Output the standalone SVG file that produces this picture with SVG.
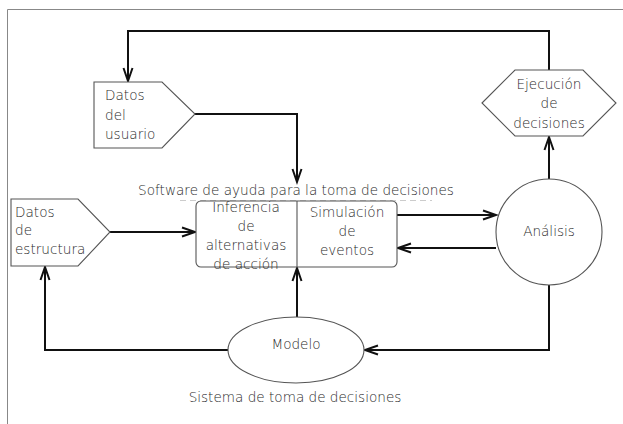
<svg xmlns="http://www.w3.org/2000/svg" width="623" height="424" viewBox="0 0 623 424">
<style>
text{font-family:"DejaVu Sans","Liberation Sans",sans-serif;font-size:13.6px;font-weight:300;fill:#2a2a2a}
.c{text-anchor:middle}
.shape{fill:#fff;stroke:#555;stroke-width:1.1}
.conn{fill:none;stroke:#111;stroke-width:2}
</style>
<defs>
<marker id="arr" markerUnits="userSpaceOnUse" markerWidth="18" markerHeight="14" refX="14" refY="6" orient="auto">
<path d="M1,1.5 L14,6 L1,10.5" fill="none" stroke="#111" stroke-width="2"/>
</marker>
</defs>
<rect width="623" height="424" fill="#fff"/>
<path d="M7.5,424 V9.5 H623" fill="none" stroke="#888" stroke-width="1"/>
<line x1="180" y1="200.5" x2="432" y2="200.5" stroke="#ccc" stroke-width="1" stroke-dasharray="6,4"/>
<text class="c" x="296" y="195">Software de ayuda para la toma de decisiones</text>
<text class="c" x="295" y="402">Sistema de toma de decisiones</text>

<g id="connectors">
<path class="conn" d="M549,70 V31 H128 V81" marker-end="url(#arr)"/>
<path class="conn" d="M195,114 H297 V182" marker-end="url(#arr)"/>
<path class="conn" d="M110,232 H195" marker-end="url(#arr)"/>
<path class="conn" d="M397,215 H496" marker-end="url(#arr)"/>
<path class="conn" d="M496,248 H398" marker-end="url(#arr)"/>
<path class="conn" d="M549,179 V137" marker-end="url(#arr)"/>
<path class="conn" d="M549,285 V350 H365" marker-end="url(#arr)"/>
<path class="conn" d="M297,317 V268" marker-end="url(#arr)"/>
<path class="conn" d="M228,350 H45 V267" marker-end="url(#arr)"/>
</g>

<g id="datos-usuario">
<path class="shape" d="M94,82 H162 L195,114 L162,148 H94 Z"/>
<text x="105" y="100">Datos</text>
<text x="105" y="120">del</text>
<text x="105" y="139">usuario</text>
</g>

<g id="datos-estructura">
<path class="shape" d="M11,199 H78 L110,232 L78,266 H11 Z"/>
<text x="15" y="217">Datos</text>
<text x="15" y="235">de</text>
<text x="15" y="254">estructura</text>
</g>

<g id="software">
<rect class="shape" x="196" y="201" width="201" height="66" rx="5"/>
<line x1="297" y1="201" x2="297" y2="267" stroke="#555" stroke-width="1.1"/>
<text class="c" x="246" y="212">Inferencia</text>
<text class="c" x="246" y="231">de</text>
<text class="c" x="246" y="250">alternativas</text>
<text class="c" x="246" y="269">de acción</text>
<text class="c" x="347" y="217">Simulación</text>
<text class="c" x="347" y="236">de</text>
<text class="c" x="347" y="255">eventos</text>
</g>

<g id="analisis">
<circle class="shape" cx="549" cy="232" r="53"/>
<text class="c" x="549" y="236">Análisis</text>
</g>

<g id="ejecucion">
<path class="shape" d="M482,103 L515,70 H583 L616,103 L583,136 H515 Z"/>
<text class="c" x="549" y="89">Ejecución</text>
<text class="c" x="549" y="108">de</text>
<text class="c" x="549" y="128">decisiones</text>
</g>

<g id="modelo">
<ellipse class="shape" cx="296" cy="350" rx="68" ry="33"/>
<text class="c" x="296" y="349">Modelo</text>
</g>
</svg>
